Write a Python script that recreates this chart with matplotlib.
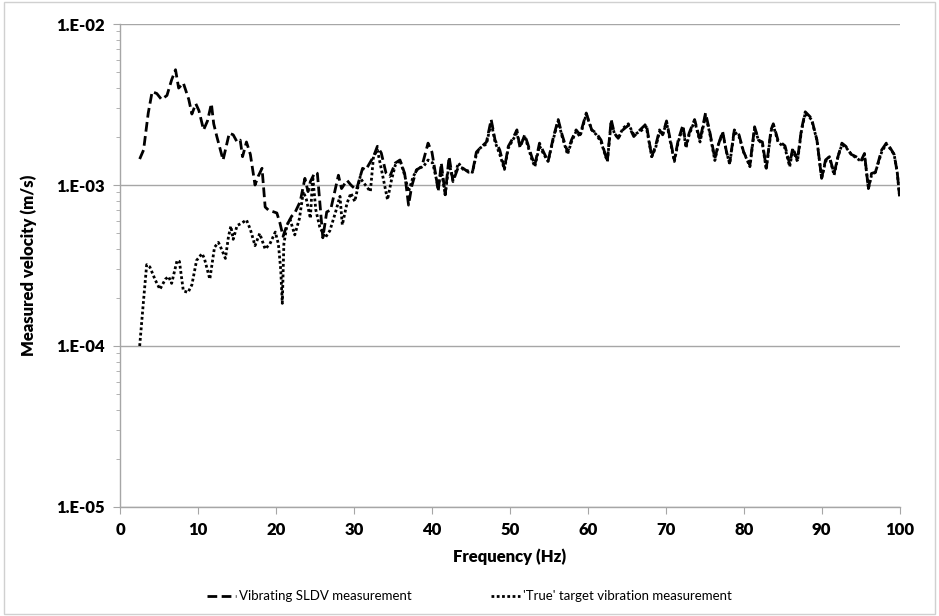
import math
import matplotlib
matplotlib.use("Agg")
import matplotlib.pyplot as plt
from matplotlib.patches import Rectangle
from matplotlib.ticker import FixedLocator, FuncFormatter, LogLocator, NullFormatter

# Vibrating SLDV measurement (dashed)
sldv_freq = [2.5, 3.0, 3.6, 4.1, 4.7, 5.3, 6.0, 6.6, 7.1, 7.5, 8.1, 8.8, 9.2, 9.7,
             10.1, 10.7, 11.2, 11.7, 12.0, 12.4, 13.2, 14.0, 14.5, 15.0, 15.4, 15.7,
             16.2, 16.7, 17.3, 17.7, 18.2, 18.6, 19.0, 20.1, 20.5, 20.9, 21.4, 22.0,
             22.4, 23.1, 23.7, 24.1, 24.4, 25.0, 25.3, 26.0, 26.5, 27.0, 28.0, 28.4,
             29.1, 29.6, 30.3, 31.1, 31.5, 32.5, 33.0, 33.5, 34.1, 34.6, 35.3, 35.9,
             36.5, 37.0, 37.4, 38.0, 38.7, 39.5, 40.0, 40.6, 40.8, 41.2, 41.7, 42.2,
             42.7, 43.4, 44.0, 44.7, 45.2, 45.7, 46.2, 47.0, 47.6, 48.1, 48.7, 49.3,
             49.8, 50.5, 50.9, 51.3, 51.9, 52.3, 52.8, 53.2, 53.8, 54.2, 54.9, 55.6,
             56.2, 56.7, 57.4, 57.9, 58.5, 59.0, 59.8, 60.5, 61.1, 61.7, 62.5, 63.0,
             63.4, 63.9, 64.5, 65.2, 65.9, 66.7, 67.5, 68.2, 68.7, 69.2, 69.6, 70.1,
             70.5, 71.1, 71.6, 72.2, 72.6, 73.0, 73.7, 74.4, 75.1, 75.6, 76.3, 76.7,
             77.3, 77.8, 78.2, 78.8, 79.4, 80.0, 80.8, 81.4, 81.9, 82.4, 82.9, 83.5,
             83.8, 84.4, 85.3, 85.9, 86.3, 86.9, 87.4, 87.9, 88.7, 89.4, 90.0, 90.5,
             91.0, 91.6, 92.1, 92.6, 93.1, 93.8, 94.4, 95.1, 95.5, 96.0, 96.4, 96.9,
             97.7, 98.3, 98.8, 99.3, 99.7, 100.0]
sldv_vel = [1.45e-3, 1.65e-3, 2.8e-3, 3.8e-3, 3.7e-3, 3.4e-3, 3.6e-3, 4.5e-3, 5.2e-3,
            4.0e-3, 4.3e-3, 3.4e-3, 2.76e-3, 3.2e-3, 2.9e-3, 2.2e-3, 2.5e-3, 3.2e-3,
            2.4e-3, 2.0e-3, 1.43e-3, 2.1e-3, 2.05e-3, 1.85e-3, 1.9e-3, 1.5e-3, 1.85e-3,
            1.55e-3, 1.0e-3, 1.13e-3, 1.27e-3, 7.3e-4, 7.0e-4, 6.7e-4, 5.8e-4, 4.8e-4,
            5.65e-4, 6.4e-4, 6.7e-4, 7.9e-4, 1.1e-3, 9.1e-4, 1.05e-3, 1.2e-3, 1.18e-3,
            4.7e-4, 6.8e-4, 7.0e-4, 1.15e-3, 9.5e-4, 1.07e-3, 1.0e-3, 9.3e-4, 1.27e-3,
            1.24e-3, 1.5e-3, 1.74e-3, 1.58e-3, 1.19e-3, 1.13e-3, 1.37e-3, 1.43e-3,
            1.18e-3, 7.5e-4, 9.8e-4, 1.24e-3, 1.3e-3, 1.82e-3, 1.6e-3, 1.07e-3, 9.1e-4,
            1.37e-3, 8.7e-4, 1.5e-3, 1.05e-3, 1.3e-3, 1.27e-3, 1.2e-3, 1.2e-3, 1.6e-3,
            1.7e-3, 1.85e-3, 2.55e-3, 1.9e-3, 1.65e-3, 1.27e-3, 1.74e-3, 2.0e-3, 2.2e-3,
            1.7e-3, 2.05e-3, 1.8e-3, 1.5e-3, 1.33e-3, 1.82e-3, 1.65e-3, 1.4e-3, 2.0e-3,
            2.55e-3, 2.05e-3, 1.6e-3, 1.9e-3, 2.2e-3, 2.05e-3, 2.8e-3, 2.2e-3, 2.1e-3,
            1.9e-3, 1.4e-3, 2.55e-3, 2.1e-3, 1.95e-3, 2.2e-3, 2.35e-3, 2.0e-3, 2.2e-3,
            2.4e-3, 1.5e-3, 1.75e-3, 2.2e-3, 2.05e-3, 2.5e-3, 2.0e-3, 1.43e-3, 1.9e-3,
            2.35e-3, 1.75e-3, 2.1e-3, 2.55e-3, 1.9e-3, 2.8e-3, 2.2e-3, 1.46e-3, 1.75e-3,
            2.15e-3, 1.6e-3, 1.37e-3, 2.2e-3, 2.05e-3, 1.6e-3, 1.33e-3, 2.3e-3, 1.9e-3,
            1.85e-3, 1.27e-3, 2.2e-3, 2.4e-3, 1.9e-3, 1.75e-3, 1.35e-3, 1.7e-3, 1.43e-3,
            2.2e-3, 2.85e-3, 2.6e-3, 1.9e-3, 1.1e-3, 1.43e-3, 1.5e-3, 1.18e-3, 1.5e-3,
            1.82e-3, 1.74e-3, 1.55e-3, 1.5e-3, 1.43e-3, 1.57e-3, 9.5e-4, 1.18e-3,
            1.2e-3, 1.65e-3, 1.82e-3, 1.7e-3, 1.55e-3, 1.2e-3, 8.5e-4]

# 'True' target vibration measurement (dotted)
true_freq = [2.5, 3.0, 3.4, 3.8, 4.5, 5.1, 5.8, 6.2, 6.6, 7.3, 7.6, 8.1, 8.7, 9.2,
             9.8, 10.5, 10.8, 11.5, 12.1, 12.6, 13.0, 13.5, 13.9, 14.2, 14.5, 15.0,
             15.6, 16.2, 16.7, 17.3, 17.9, 18.6, 19.2, 19.9, 20.3, 20.6, 20.8, 21.0,
             21.4, 21.8, 22.4, 23.0, 23.5, 23.9, 24.4, 24.7, 25.1, 25.6, 26.3, 26.9,
             27.6, 28.2, 28.5, 29.1, 29.6, 30.1, 30.8, 31.0, 32.1, 32.5, 33.0, 33.7,
             34.3, 34.8, 35.3, 35.9, 36.5, 37.0, 37.6, 38.2, 38.9, 39.5, 40.1, 40.8,
             41.2, 41.7, 42.2, 42.7, 43.4, 44.0, 44.7, 45.2, 45.7, 46.2, 47.0, 47.6,
             48.1, 48.7, 49.3, 49.8, 50.5, 50.9, 51.3, 51.9, 52.3, 52.8, 53.2, 53.8,
             54.2, 54.9, 55.6, 56.2, 56.7, 57.4, 57.9, 58.5, 59.0, 59.8, 60.5, 61.1,
             61.7, 62.5, 63.0, 63.4, 63.9, 64.5, 65.2, 65.9, 66.7, 67.5, 68.2, 68.7,
             69.2, 69.6, 70.1, 70.5, 71.1, 71.6, 72.2, 72.6, 73.0, 73.7, 74.4, 75.1,
             75.6, 76.3, 76.7, 77.3, 77.8, 78.2, 78.8, 79.4, 80.0, 80.8, 81.4, 81.9,
             82.4, 82.9, 83.5, 83.8, 84.4, 85.3, 85.9, 86.3, 86.9, 87.4, 87.9, 88.7,
             89.4, 90.0, 90.5, 91.0, 91.6, 92.1, 92.6, 93.1, 93.8, 94.4, 95.1, 95.5,
             96.0, 96.4, 96.9, 97.7, 98.3, 98.8, 99.3, 99.7, 100.0]
true_vel = [1.0e-4, 1.93e-4, 3.2e-4, 3.1e-4, 2.57e-4, 2.25e-4, 2.6e-4, 2.7e-4, 2.45e-4,
            3.4e-4, 3.35e-4, 2.2e-4, 2.15e-4, 2.4e-4, 3.4e-4, 3.75e-4, 3.5e-4, 2.6e-4,
            4.1e-4, 4.4e-4, 4.0e-4, 3.5e-4, 4.8e-4, 5.55e-4, 4.6e-4, 5.6e-4, 5.8e-4,
            6.07e-4, 5.3e-4, 4.2e-4, 5.0e-4, 4.0e-4, 4.3e-4, 5.1e-4, 4.3e-4, 2.97e-4,
            1.84e-4, 4.3e-4, 5.65e-4, 6.1e-4, 4.9e-4, 6.2e-4, 9.1e-4, 8.1e-4, 6.2e-4,
            1.13e-3, 7.0e-4, 5.5e-4, 4.7e-4, 5.2e-4, 6.7e-4, 8.5e-4, 5.65e-4, 7.7e-4,
            8.9e-4, 7.9e-4, 1.13e-3, 1.07e-3, 9.1e-4, 1.5e-3, 1.65e-3, 1.13e-3, 8.1e-4,
            1.07e-3, 1.33e-3, 1.43e-3, 1.15e-3, 9.1e-4, 1.13e-3, 1.27e-3, 1.3e-3,
            1.43e-3, 1.37e-3, 9.7e-4, 1.24e-3, 8.7e-4, 1.37e-3, 1.07e-3, 1.37e-3,
            1.25e-3, 1.22e-3, 1.2e-3, 1.55e-3, 1.7e-3, 1.8e-3, 2.45e-3, 1.85e-3, 1.55e-3,
            1.25e-3, 1.7e-3, 1.95e-3, 2.1e-3, 1.75e-3, 2.0e-3, 1.75e-3, 1.45e-3, 1.3e-3,
            1.75e-3, 1.6e-3, 1.4e-3, 1.95e-3, 2.5e-3, 2.0e-3, 1.55e-3, 1.85e-3, 2.15e-3,
            2.0e-3, 2.75e-3, 2.2e-3, 2.05e-3, 1.85e-3, 1.4e-3, 2.45e-3, 2.1e-3, 1.95e-3,
            2.25e-3, 2.4e-3, 2.05e-3, 2.15e-3, 2.3e-3, 1.5e-3, 1.7e-3, 2.15e-3, 2.05e-3,
            2.45e-3, 1.95e-3, 1.4e-3, 1.85e-3, 2.3e-3, 1.7e-3, 2.05e-3, 2.5e-3, 1.85e-3,
            2.7e-3, 2.15e-3, 1.42e-3, 1.75e-3, 2.1e-3, 1.6e-3, 1.35e-3, 2.15e-3, 2.0e-3,
            1.6e-3, 1.3e-3, 2.25e-3, 1.9e-3, 1.8e-3, 1.25e-3, 2.15e-3, 2.35e-3, 1.85e-3,
            1.7e-3, 1.3e-3, 1.65e-3, 1.4e-3, 2.15e-3, 2.8e-3, 2.55e-3, 1.9e-3, 1.1e-3,
            1.4e-3, 1.5e-3, 1.15e-3, 1.5e-3, 1.78e-3, 1.72e-3, 1.55e-3, 1.48e-3, 1.4e-3,
            1.55e-3, 9.5e-4, 1.15e-3, 1.2e-3, 1.6e-3, 1.8e-3, 1.68e-3, 1.55e-3, 1.2e-3,
            8.5e-4]

x_ticks = [0, 10, 20, 30, 40, 50, 60, 70, 80, 90, 100]
y_ticks = [1e-5, 1e-4, 1e-3, 1e-2]

plt.rcParams['font.family'] = ['Lato', 'DejaVu Sans']

fig = plt.figure(figsize=(9.39, 6.16), dpi=100)
ax = fig.add_axes([0.128, 0.177, 0.83, 0.784])

ax.plot(sldv_freq, sldv_vel, color='black', lw=2.0, linestyle=(0, (3.5, 1.6)),
        label='Vibrating SLDV measurement')
ax.plot(true_freq, true_vel, color='black', lw=2.0, linestyle=(0, (1, 0.9)),
        label="'True' target vibration measurement")

ax.set_yscale('log')
ax.set_xlim(0, 100)
ax.set_ylim(1e-5, 1e-2)
ax.xaxis.set_major_locator(FixedLocator(x_ticks))
ax.yaxis.set_major_locator(FixedLocator(y_ticks))
ax.yaxis.set_minor_locator(LogLocator(base=10, subs=range(2, 10), numticks=20))
ax.yaxis.set_minor_formatter(NullFormatter())
ax.yaxis.set_major_formatter(FuncFormatter(lambda v, p: '1.E%+03d' % round(math.log10(v))))

ax.grid(axis='y', which='major', color='#a6a6a6', lw=1)
ax.set_axisbelow(True)
for s in ['top', 'right']:
    ax.spines[s].set_visible(False)
for s in ['left', 'bottom']:
    ax.spines[s].set_color('#a6a6a6')
    ax.spines[s].set_linewidth(1)

ax.tick_params(axis='both', which='major', direction='out', length=5, color='#a6a6a6',
               labelsize=12, pad=6)
ax.tick_params(axis='y', which='minor', direction='out', length=3, color='#a6a6a6')
ax.tick_params(axis='x', which='minor', bottom=False)
for lab in ax.get_xticklabels() + ax.get_yticklabels():
    lab.set_fontweight('heavy')

ax.set_xlabel('Frequency (Hz)', fontsize=12, fontweight='heavy', labelpad=7)
ax.set_ylabel('Measured velocity (m/s)', fontsize=12, fontweight='heavy', labelpad=14)

fig.legend(loc='center', bbox_to_anchor=(0.5, 0.032), ncol=2, frameon=False,
           fontsize=9.5, handlelength=2.2, handletextpad=0.2, columnspacing=6)

fig.patches.append(Rectangle((0.004, 0.004), 0.992, 0.992, transform=fig.transFigure,
                             fill=False, edgecolor='#d0d0d0', lw=1))

fig.savefig('out.png', dpi=100)
